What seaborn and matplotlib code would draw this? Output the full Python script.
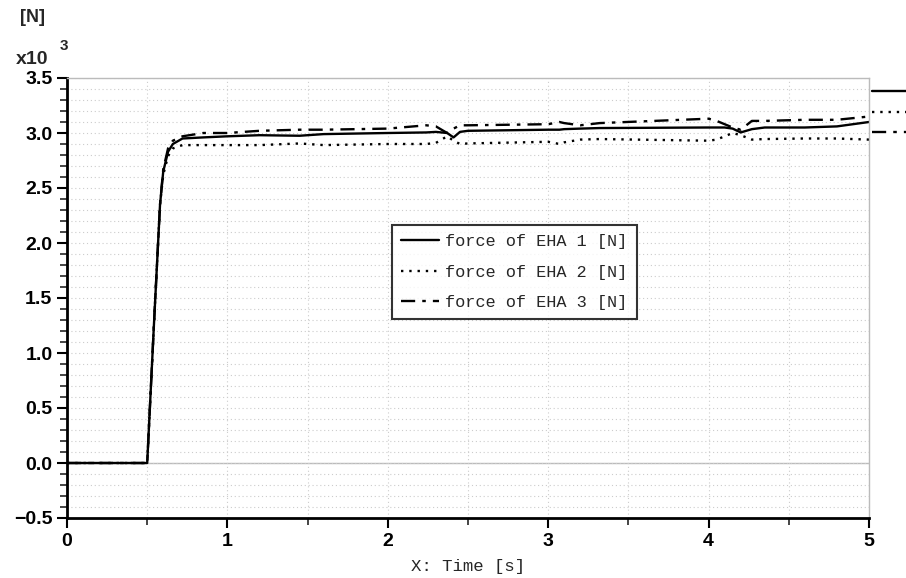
import numpy as np
import pandas as pd
import matplotlib
matplotlib.use("Agg")
import matplotlib.pyplot as plt
from matplotlib.lines import Line2D
from matplotlib.ticker import MultipleLocator, FuncFormatter, FormatStrFormatter
import seaborn as sns

# ---- data (force in N) ----
time_s = [0.0, 0.5, 0.54, 0.58, 0.6, 0.63, 0.66, 0.72, 0.85, 1.0, 1.2, 1.45, 1.6, 2.0,
          2.24, 2.3, 2.37, 2.41, 2.45, 2.5, 3.0, 3.07, 3.1, 3.2, 3.32, 4.0, 4.05,
          4.1, 4.15, 4.2, 4.27, 4.35, 4.6, 4.8, 5.0]
force_eha1 = [0, 0, 1200, 2350, 2650, 2830, 2900, 2950, 2960, 2970, 2980, 2975, 2990, 3000,
              3005, 3010, 3000, 2960, 3010, 3020, 3030, 3030, 3035, 3040, 3045, 3050, 3050,
              3050, 3040, 3005, 3035, 3050, 3050, 3060, 3100]
force_eha2 = [0, 0, 1200, 2350, 2620, 2790, 2860, 2890, 2890, 2890, 2890, 2905, 2890, 2900,
              2900, 2910, 2970, 2930, 2900, 2905, 2920, 2900, 2915, 2940, 2945, 2930, 2940,
              2970, 3000, 2980, 2940, 2945, 2950, 2950, 2940]
force_eha3 = [0, 0, 1200, 2350, 2670, 2860, 2930, 2970, 3000, 3000, 3020, 3030, 3030, 3040,
              3070, 3060, 3000, 3040, 3070, 3070, 3080, 3100, 3090, 3070, 3090, 3130, 3110,
              3080, 3050, 3030, 3110, 3110, 3120, 3120, 3150]
series_labels = ["force of EHA 1 [N]", "force of EHA 2 [N]", "force of EHA 3 [N]"]

sns.set_style("white")
plt.rcParams["font.family"] = ["Liberation Sans", "DejaVu Sans"]
plt.rcParams["font.weight"] = "bold"

mono = ["Liberation Mono", "DejaVu Sans Mono"]

df = pd.DataFrame({
    "t": time_s * 3,
    "F": np.array(force_eha1 + force_eha2 + force_eha3) / 1000.0,
    "series": [series_labels[0]] * len(time_s) + [series_labels[1]] * len(time_s)
              + [series_labels[2]] * len(time_s),
})

fig = plt.figure(figsize=(9.06, 5.78), dpi=100)
ax = fig.add_axes([67 / 906, 1 - 518 / 578, (869 - 67) / 906, (518 - 78) / 578])

styles = ["-", (0, (1, 2.5)), (0, (6, 3, 1.5, 3))]
for lab, ls in zip(series_labels, styles):
    sub = df[df["series"] == lab]
    sns.lineplot(data=sub, x="t", y="F", ax=ax, color="black", linestyle=ls,
                 linewidth=1.7, label=lab, legend=False)

ax.set_xlim(0, 5)
ax.set_ylim(-0.5, 3.5)
ax.xaxis.set_major_locator(MultipleLocator(1))
ax.xaxis.set_minor_locator(MultipleLocator(0.5))
ax.yaxis.set_major_locator(MultipleLocator(0.5))
ax.yaxis.set_minor_locator(MultipleLocator(0.1))
ax.yaxis.set_major_formatter(FuncFormatter(lambda v, p: f"{v:.1f}".replace("-", "\u2212")))
ax.xaxis.set_major_formatter(FormatStrFormatter("%d"))

ax.grid(which="both", axis="y", color="#cccccc", linestyle=(0, (1, 2.5)), linewidth=0.8)
ax.grid(which="both", axis="x", color="#cccccc", linestyle=(0, (1, 2.5)), linewidth=0.8)
ax.axhline(0, color="#bbbbbb", linewidth=1.0, zorder=0)

for s in ["top", "right"]:
    ax.spines[s].set_color("#bbbbbb")
    ax.spines[s].set_linewidth(1.0)
for s in ["left", "bottom"]:
    ax.spines[s].set_color("black")
    ax.spines[s].set_linewidth(2.0)

ax.tick_params(axis="both", which="major", direction="out", length=7, width=1.5,
               labelsize=14, colors="black")
ax.tick_params(axis="both", which="minor", direction="out", length=5, width=1.2)
ax.tick_params(axis="x", which="both", bottom=True)
ax.tick_params(axis="y", which="both", left=True)

ax.set_ylabel("")
ax.set_xlabel("X: Time [s]", fontsize=12.5, family=mono, fontweight="normal", labelpad=7)

fig.text(20 / 906, 1 - 18 / 578, "[N]", fontsize=13, fontweight="bold", va="center")
fig.text(16 / 906, 1 - 59 / 578, "x10", fontsize=14, fontweight="bold", va="center")
fig.text(60 / 906, 1 - 46 / 578, "3", fontsize=11, fontweight="bold", va="center")

leg = ax.legend(loc="upper left", bbox_to_anchor=((392 - 67) / 802, 1 - (225 - 78) / 440),
                prop={"family": mono, "size": 12.2, "weight": "normal"}, frameon=True,
                fancybox=False, edgecolor="black", handlelength=2.2, labelspacing=0.9,
                borderpad=0.55, handletextpad=0.4, borderaxespad=0)
leg.get_frame().set_linewidth(1.5)

# side key lines at the right edge
for yy, ls in zip([91, 112, 132], styles):
    fig.add_artist(Line2D([872 / 906, 906 / 906], [1 - yy / 578, 1 - yy / 578],
                          color="black", linestyle=ls, linewidth=1.7,
                          transform=fig.transFigure))

fig.savefig("out.png", dpi=100)
